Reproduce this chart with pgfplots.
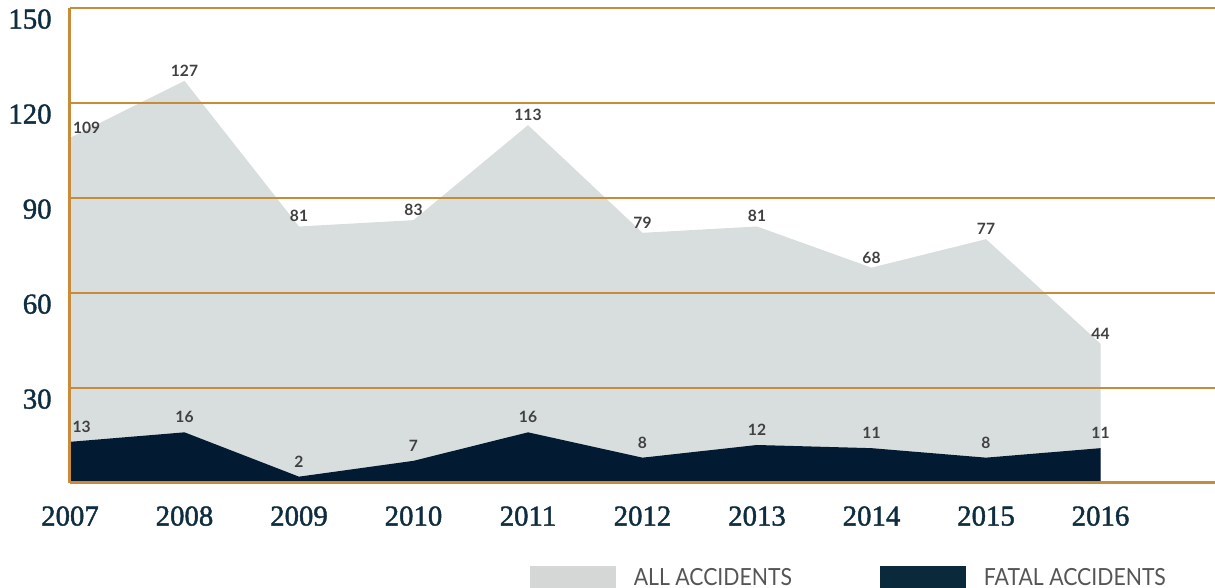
\documentclass[border=0pt]{standalone}
\usepackage{fontspec}
\usepackage{pgfplots}
\pgfplotsset{compat=1.18}
\newfontfamily\tickfont[FakeBold=1.5]{Liberation Serif}
\newfontfamily\lblfont{Lato}
\newfontfamily\legfont[FakeStretch=0.9]{Lato}
\definecolor{gridc}{HTML}{C88C38}
\definecolor{allc}{HTML}{D8DDDE}
\definecolor{fatalc}{HTML}{021B32}
\definecolor{tickc}{HTML}{0F2D40}
\definecolor{lblc}{HTML}{404040}
\definecolor{legc}{HTML}{555555}
\definecolor{legall}{HTML}{D5D6D6}
\definecolor{legfatal}{HTML}{0A2A3C}
\begin{document}
\begin{tikzpicture}
\useasboundingbox (0,0) rectangle (607.5pt,294pt);
\begin{axis}[
  at={(35pt,52.5pt)}, anchor=south west,
  scale only axis, width=572.5pt, height=237.5pt,
  xmin=2007, xmax=2017, ymin=0, ymax=150,
  xtick={2007,2008,2009,2010,2011,2012,2013,2014,2015,2016},
  ytick={30,60,90,120,150},
  axis x line*=bottom, axis y line*=left,
  axis line style={draw=gridc, line width=1.5pt, -},
  ymajorgrids, grid style={draw=gridc, line width=0.7pt},
  major tick length=0pt,
  axis on top,
  clip=false,
  /pgf/number format/assume math mode=true,
  /pgf/number format/1000 sep={},
  yticklabel style={font=\tickfont\fontsize{14.4}{14.4}\selectfont, text=tickc, anchor=north east, inner sep=0pt, xshift=-9pt, yshift=-0.5pt},
  xticklabel style={font=\tickfont\fontsize{14.4}{14.4}\selectfont, text=tickc, anchor=north, inner sep=0pt, yshift=-11.5pt},
  nodes near coords style={font=\lblfont\bfseries\fontsize{7.8}{7.8}\selectfont, text=lblc, anchor=south, inner sep=0pt},
  legend style={at={(rel axis cs:0.4017,0)}, anchor=north west, yshift=-41.5pt,
    draw=none, fill=none, inner sep=0pt, outer sep=0pt,
    nodes={inner sep=0pt},
    font=\legfont\fontsize{11.8}{11.8}\selectfont, text=legc,
    /tikz/every odd column/.append style={column sep=9pt},
    /tikz/every even column/.append style={column sep=44pt}},
  legend columns=2,
]
\addplot[fill=allc, draw=none, forget plot, nodes near coords,
  visualization depends on={value \coordindex \as \ci},
  nodes near coords style={yshift=2pt, xshift={(\ci==0)*8.3pt}}]
  coordinates {(2007,109) (2008,127) (2009,81) (2010,83) (2011,113) (2012,79) (2013,81) (2014,68) (2015,77) (2016,44)} \closedcycle;
\addplot[fill=fatalc, draw=none, forget plot, nodes near coords,
  visualization depends on={value \coordindex \as \ci},
  nodes near coords style={yshift=4.5pt, xshift={(\ci==0)*5.8pt}}]
  coordinates {(2007,13) (2008,16) (2009,2) (2010,7) (2011,16) (2012,8) (2013,12) (2014,11) (2015,8) (2016,11)} \closedcycle;
\addlegendimage{legend image code/.code={\fill[legall] (0pt,-10pt) rectangle (42.5pt,6pt);}}
\addlegendentry{ALL ACCIDENTS}
\addlegendimage{legend image code/.code={\fill[legfatal] (0pt,-10pt) rectangle (42.5pt,6pt);}}
\addlegendentry{FATAL ACCIDENTS}
\end{axis}
\end{tikzpicture}
\end{document}
